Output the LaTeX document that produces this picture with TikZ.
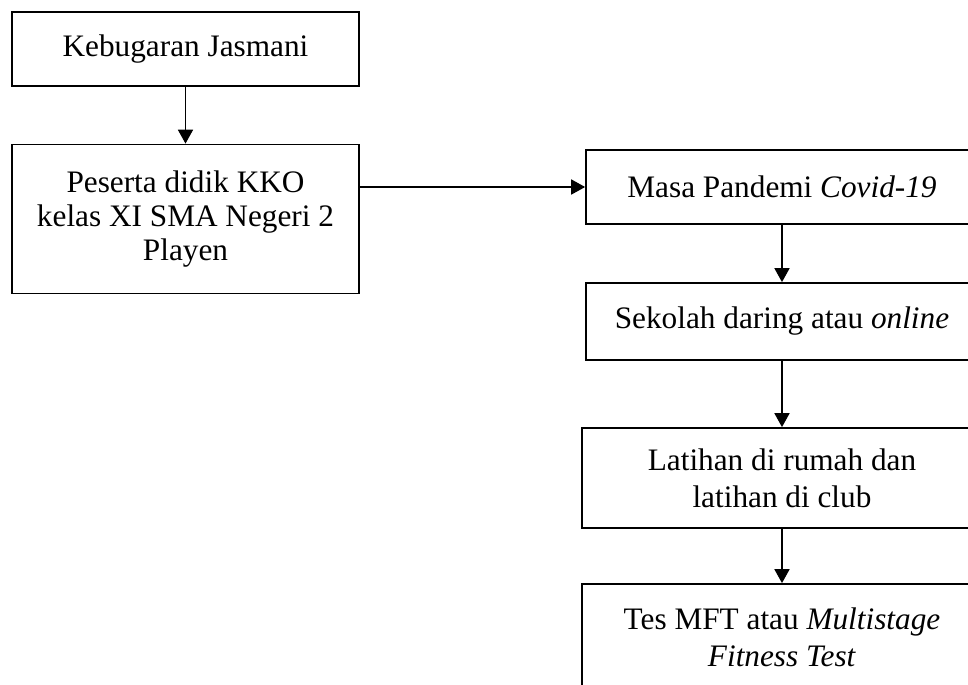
\documentclass[tikz,border=0pt]{standalone}
\usepackage{fontspec}
\setmainfont{Liberation Serif}
\usetikzlibrary{arrows.meta}
\begin{document}
\begin{tikzpicture}[x=0.02cm,y=-0.02cm,line width=1pt,>={Triangle[length=2.8mm,width=3mm]},
        box/.style={draw,align=center,inner sep=0pt,font=\fontsize{17.8}{19.5}\selectfont}]
                \useasboundingbox (0,0) rectangle (968,684); \clip (0,0) rectangle (968,684);

                \node[box,minimum width=6.94cm,minimum height=1.48cm] (kebugaran) at (185.5,49) {Kebugaran Jasmani};
                \node[box,minimum width=6.94cm,minimum height=2.98cm] (peserta) at (185.5,219) {Peserta didik KKO\\kelas XI SMA Negeri 2\\Playen};
                \node[box,minimum width=7.84cm,minimum height=1.48cm] (pandemi) at (782,187) {Masa Pandemi \textit{Covid-19}};
                \node[box,minimum width=7.84cm,minimum height=1.54cm] (daring) at (782,321.5) {Sekolah daring atau \textit{online}};
                \node[box,minimum width=8cm,minimum height=2cm,font=\fontsize{17.8}{21}\selectfont] (latihan) at (782,478) {Latihan di rumah dan\\latihan di club};
                \node[box,minimum width=8cm,minimum height=2.12cm,font=\fontsize{17.8}{21}\selectfont] (tes) at (782,637) {Tes MFT atau \textit{Multistage}\\\textit{Fitness Test}};

                \draw[->] (kebugaran) to (peserta); \draw[->] (peserta.east |- pandemi.west) to (pandemi.west);
                \draw[->] (pandemi) to (daring); \draw[->] (daring) to (latihan); \draw[->] (latihan) to (tes);
            \end{tikzpicture}
\end{document}
